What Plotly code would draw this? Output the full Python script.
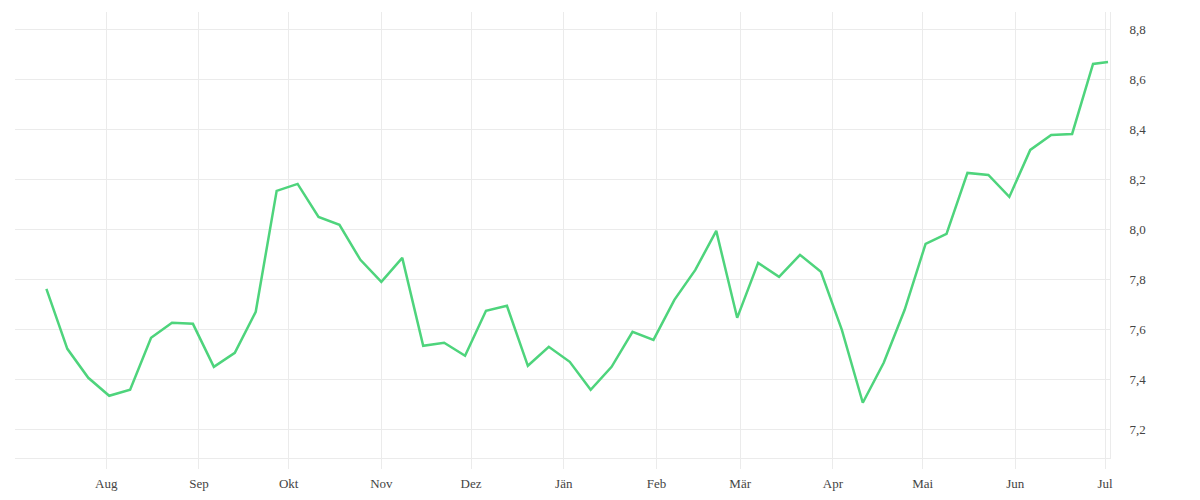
import pandas as pd
import plotly.graph_objects as go

# Weekly observation dates (last one is a partial week)
dates = list(pd.date_range("2022-07-12", periods=51, freq="7D").strftime("%Y-%m-%d")) + ["2023-07-02"]
values = [7.761, 7.521, 7.405, 7.333, 7.357, 7.565, 7.625, 7.621, 7.449, 7.505,
          7.669, 8.153, 8.181, 8.049, 8.017, 7.877, 7.789, 7.885, 7.533, 7.545,
          7.493, 7.673, 7.693, 7.453, 7.529, 7.469, 7.357, 7.449, 7.589, 7.557,
          7.717, 7.837, 7.993, 7.645, 7.865, 7.809, 7.897, 7.829, 7.597, 7.305,
          7.465, 7.677, 7.941, 7.981, 8.225, 8.217, 8.129, 8.317, 8.377, 8.381,
          8.661, 8.669]

month_ticks = ["2022-08-01", "2022-09-01", "2022-10-01", "2022-11-01", "2022-12-01",
               "2023-01-01", "2023-02-01", "2023-03-01", "2023-04-01", "2023-05-01",
               "2023-06-01", "2023-07-01"]
month_labels = ["Aug", "Sep", "Okt", "Nov", "Dez", "Jän", "Feb", "Mär", "Apr", "Mai", "Jun", "Jul"]
y_ticks = [7.2, 7.4, 7.6, 7.8, 8.0, 8.2, 8.4, 8.6, 8.8]

grid = "#ebebeb"
font_family = "Liberation Serif, DejaVu Serif, serif"
text_color = "#444444"

fig = go.Figure()
fig.add_trace(go.Scatter(
    x=dates, y=values, mode="lines",
    line=dict(color="#4ed47c", width=2.5),
    hoverinfo="x+y", showlegend=False,
))

fig.update_layout(
    width=1192, height=492,
    margin=dict(l=7, r=90, t=4, b=42),
    paper_bgcolor="white", plot_bgcolor="white",
    separators=", ",
    font=dict(family=font_family, size=13, color=text_color),
    xaxis=dict(
        type="date",
        range=["2022-07-01 12:00", "2023-07-02 16:00"],
        tickvals=month_ticks, ticktext=month_labels,
        showgrid=True, gridcolor=grid, gridwidth=1,
        ticks="outside", ticklen=10, tickcolor=grid, tickwidth=1,
        ticklabelstandoff=3,
        showline=True, linecolor=grid, linewidth=1,
        zeroline=False,
        tickfont=dict(family=font_family, size=13, color=text_color),
    ),
    yaxis=dict(
        side="right",
        range=[7.084, 8.869],
        tickvals=y_ticks, tickformat=".1f",
        showgrid=True, gridcolor=grid, gridwidth=1,
        ticks="outside", ticklen=16, tickcolor="rgba(0,0,0,0)",
        showline=True, linecolor=grid, linewidth=1,
        zeroline=False,
        tickfont=dict(family=font_family, size=13, color=text_color),
    ),
)

fig.write_html("out.html")
